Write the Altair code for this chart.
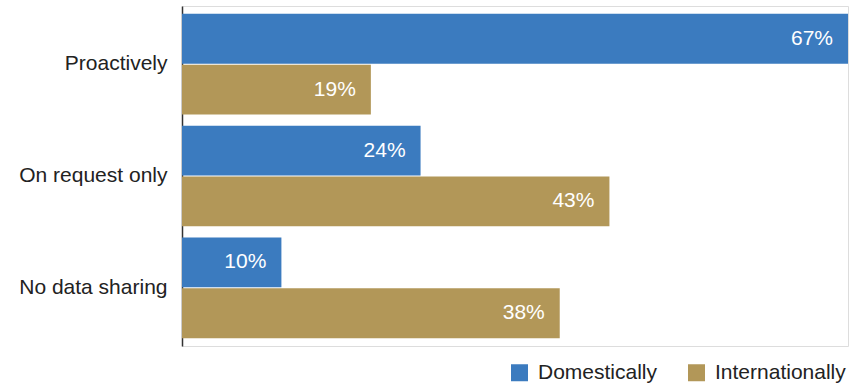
import altair as alt
import pandas as pd

categories = ["Proactively", "On request only", "No data sharing"]
domestic = [67, 24, 10]
international = [19, 43, 38]
series = ["Domestically", "Internationally"]
colors = ["#3b7bbf", "#b29758"]

rows = []
for c, d, i in zip(categories, domestic, international):
    rows.append({"cat": c, "series": series[0], "value": d, "label": f"{d}%"})
    rows.append({"cat": c, "series": series[1], "value": i, "label": f"{i}%"})
df = pd.DataFrame(rows)

FONT = "Liberation Sans"
FS = 21

y = alt.Y("cat:N", sort=categories, title=None,
          scale=alt.Scale(paddingInner=0.1, paddingOuter=0.07),
          axis=alt.Axis(ticks=False, labelFontSize=FS, labelColor="#222222",
                        labelFont=FONT, labelPadding=15, domainColor="#333333",
                        domainWidth=1.5, labelLimit=300))
x = alt.X("value:Q", title=None, scale=alt.Scale(domain=[0, 67], nice=False, zero=True),
          axis=None)
yoff = alt.YOffset("series:N", sort=series, scale=alt.Scale(paddingInner=0.02))

base = alt.Chart(df)
bars = base.mark_bar().encode(
    y=y, x=x, yOffset=yoff,
    color=alt.Color("series:N", sort=series,
                    scale=alt.Scale(domain=series, range=colors),
                    legend=alt.Legend(title=None, orient="none", direction="horizontal",
                                      legendX=327, legendY=356, symbolType="square",
                                      symbolSize=289, symbolStrokeWidth=0,
                                      labelFontSize=FS, labelFont=FONT,
                                      labelColor="#222222", labelOffset=8,
                                      columnPadding=28)),
)
text = base.mark_text(align="right", baseline="middle", dx=-15, fontSize=FS,
                      font=FONT, color="white").encode(
    y=y, x=x, yOffset=yoff, text="label:N")

chart = (bars + text).properties(
    width=666, height=340,
    autosize=alt.AutoSizeParams(type="none"),
    padding={"left": 182, "top": 6, "right": 8, "bottom": 39},
).configure_view(stroke=None).configure(background="white")

chart.save("out.html", embed_options={"renderer": "svg", "actions": False})
